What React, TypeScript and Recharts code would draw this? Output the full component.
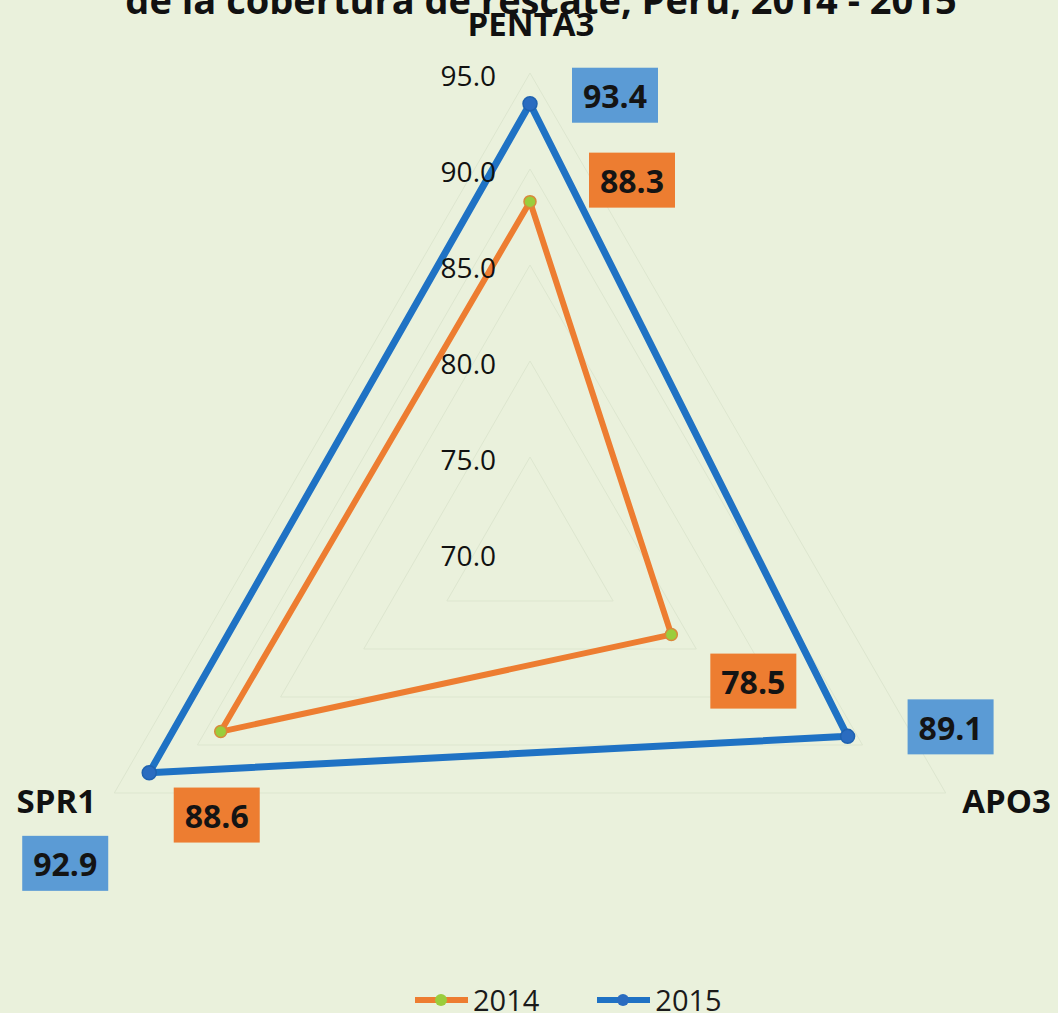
import React from 'react';
import {
    RadarChart, Radar, PolarGrid, PolarAngleAxis, PolarRadiusAxis,
    LabelList, Legend
} from 'recharts';

const categories = ['PENTA3', 'APO3', 'SPR1'];
const values2014 = [88.3, 78.5, 88.6];
const values2015 = [93.4, 89.1, 92.9];
const radiusTicks = [70, 75, 80, 85, 90, 95];
const seriesNames = ['2014', '2015'];

const chartData = categories.map((axis, i) => ({
    axis,
    y2014: values2014[i],
    y2015: values2015[i],
}));

const ORANGE = '#ed7d31';
const BLUE = '#1f72c4';
const FONT = '"Open Sans", "DejaVu Sans", sans-serif';

// where each value box sits relative to its point (PENTA3, APO3, SPR1)
const boxOffset2014: [number, number][] = [[102, -22], [82, 46], [-4, 83]];
const boxOffset2015: [number, number][] = [[85, -9], [103, -10], [-84, 90]];

// where the category names sit relative to the default tick point
const axisLabelOffset: Record<string, [number, number]> = {
    PENTA3: [1, -42],
    APO3: [54, 3],
    SPR1: [-51, 3],
};

function makeValueBox(offsets: [number, number][], fill: string) {
    return (props: any) => {
        const { x, y, value, index } = props;
        const [dx, dy] = offsets[index] || [0, 0];
        const cx = x + dx;
        const cy = y + dy;
        return (
            <g>
                <rect x={cx - 43} y={cy - 27} width={86} height={55} fill={fill} />
                <text
                    x={cx}
                    y={cy + 1}
                    textAnchor="middle"
                    dominantBaseline="central"
                    fontFamily={FONT}
                    fontWeight={700}
                    fontSize={32}
                    fill="#141414"
                >
                    {Number(value).toFixed(1)}
                </text>
            </g>
        );
    };
}

function makeDot(r: number, fill: string, stroke: string) {
    return (props: any) => {
        const { cx, cy, index } = props;
        return <circle key={index} cx={cx} cy={cy} r={r} fill={fill} stroke={stroke} strokeWidth={1.5} />;
    };
}

function AngleTick(props: any) {
    const { x, y, payload } = props;
    const [dx, dy] = axisLabelOffset[payload.value] || [0, 0];
    return (
        <text
            x={x + dx}
            y={y + dy}
            textAnchor="middle"
            dominantBaseline="central"
            fontFamily={FONT}
            fontWeight={700}
            fontSize={33}
            fill="#111"
        >
            {payload.value}
        </text>
    );
}

function RadiusTick(props: any) {
    const { x, y, payload } = props;
    return (
        <text
            x={x - 34}
            y={y + 2}
            textAnchor="end"
            dominantBaseline="central"
            fontFamily={FONT}
            fontSize={28}
            fill="#111"
        >
            {Number(payload.value).toFixed(1)}
        </text>
    );
}

function renderLegend() {
    const items = [
        { name: seriesNames[0], line: ORANGE, dot: '#9acd3c' },
        { name: seriesNames[1], line: BLUE, dot: '#2a6cc0' },
    ];
    return (
        <div style={{ display: 'flex', alignItems: 'center', paddingLeft: 415, gap: 58 }}>
            {items.map(it => (
                <div key={it.name} style={{ display: 'flex', alignItems: 'center' }}>
                    <svg width={53} height={16}>
                        <line x1={0} y1={8} x2={53} y2={8} stroke={it.line} strokeWidth={6} />
                        <circle cx={26} cy={8} r={6} fill={it.dot} />
                    </svg>
                    <span style={{ fontFamily: FONT, fontSize: 29, color: '#1a1a1a', marginLeft: 5, lineHeight: '36px' }}>
                        {it.name}
                    </span>
                </div>
            ))}
        </div>
    );
}

export default function App() {
    return (
        <div
            style={{
                position: 'relative',
                width: 1058,
                height: 1013,
                overflow: 'hidden',
                background: '#eaf1dc',
            }}
        >
            <style>{'body { margin: 0; }'}</style>
            <div
                style={{
                    position: 'absolute',
                    left: 12,
                    top: -20,
                    width: 1058,
                    textAlign: 'center',
                    fontFamily: FONT,
                    fontWeight: 700,
                    fontSize: 38,
                    lineHeight: '38px',
                    color: '#111',
                    whiteSpace: 'nowrap',
                }}
            >
                de la cobertura de rescate, Perú, 2014 - 2015
            </div>
            <RadarChart
                width={1058}
                height={1013}
                data={chartData}
                cx={530}
                cy={553}
                outerRadius={480}
                margin={{ top: 0, right: 0, bottom: 0, left: 0 }}
                style={{ position: 'absolute', left: 0, top: 0 }}
            >
                <PolarGrid gridType="polygon" radialLines={false} stroke="#dde6cf" strokeWidth={1} />
                <PolarAngleAxis dataKey="axis" tick={AngleTick} tickLine={false} axisLine={false} />
                <PolarRadiusAxis
                    angle={90}
                    domain={[70, 95]}
                    ticks={radiusTicks as any}
                    tickCount={6}
                    axisLine={false}
                    tickLine={false}
                    tick={RadiusTick}
                />
                <Radar
                    name={seriesNames[0]}
                    dataKey="y2014"
                    stroke={ORANGE}
                    strokeWidth={6}
                    strokeLinejoin="round"
                    fill="none"
                    fillOpacity={0}
                    dot={makeDot(6, '#9acd3c', '#d9893a')}
                    isAnimationActive={false}
                >
                    <LabelList dataKey="y2014" content={makeValueBox(boxOffset2014, ORANGE)} />
                </Radar>
                <Radar
                    name={seriesNames[1]}
                    dataKey="y2015"
                    stroke={BLUE}
                    strokeWidth={7}
                    strokeLinejoin="round"
                    fill="none"
                    fillOpacity={0}
                    dot={makeDot(7, '#2a6cc0', '#1f62b0')}
                    isAnimationActive={false}
                >
                    <LabelList dataKey="y2015" content={makeValueBox(boxOffset2015, '#5b9bd5')} />
                </Radar>
                <Legend
                    verticalAlign="bottom"
                    content={renderLegend}
                    wrapperStyle={{ top: 982, left: 0, bottom: 'auto', width: 1058, height: 36 }}
                />
            </RadarChart>
        </div>
    );
}
